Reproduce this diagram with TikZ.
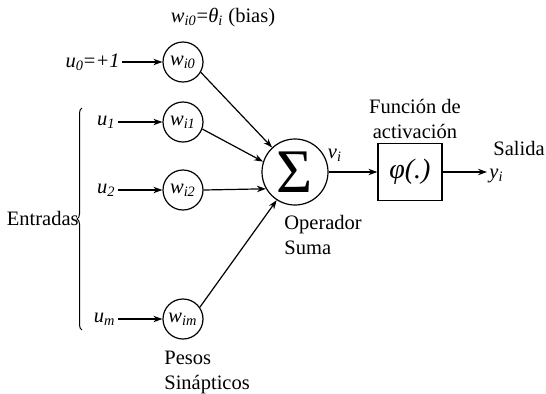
\documentclass[tikz,border=0pt]{standalone}
\usepackage{fontspec}
\setmainfont{Liberation Serif}
\usetikzlibrary{positioning,arrows.meta,decorations.pathreplacing}

\begin{document}
\begin{tikzpicture}[x=0.5pt, y=-0.5pt, >={Stealth[length=4.5pt,width=3.2pt]},
    font=\fontsize{10.25}{12.5}\selectfont,
    peso/.style={circle, draw, line width=0.6pt, minimum size=20pt, inner sep=0pt},
    entrada/.style={anchor=east, inner sep=1pt},
    flecha/.style={->, line width=0.6pt}]
    \useasboundingbox (0,0) rectangle (546,393);

    % Inputs
    \node[entrada] (u0) at (122,62) {\textit{u}\textsubscript{\textit{0}}=\textit{+1}};
    \node[entrada] (u1) at (118,122) {\textit{u}\textsubscript{\textit{1}}};
    \node[entrada] (u2) at (118,190) {\textit{u}\textsubscript{\textit{2}}};
    \node[entrada] (um) at (118,319) {\textit{u}\textsubscript{\textit{m}}};

    % Synaptic weights
    \node[peso] (w0) at (183,62) {\textit{w}\textsubscript{\textit{i0}}};
    \node[peso] (w1) at (183,122) {\textit{w}\textsubscript{\textit{i1}}};
    \node[peso] (w2) at (183,190) {\textit{w}\textsubscript{\textit{i2}}};
    \node[peso] (wm) at (183,319) {\textit{w}\textsubscript{\textit{im}}};

    % Sum and activation
    \node[circle, draw, line width=0.6pt, minimum size=33pt, inner sep=0pt] (sum) at (295,172) {\fontsize{31}{31}\selectfont Σ};
    \node[draw, line width=0.6pt, minimum width=32pt, minimum height=28.5pt] (phi) at (410,172) {\fontsize{14}{14}\selectfont\textit{φ(.)}};
    \coordinate (out) at (487,172);

    % Arrows
    \draw[flecha] (u0) -- (w0);
    \draw[flecha] (u1) -- (w1);
    \draw[flecha] (u2) -- (w2);
    \draw[flecha] (um) -- (wm);
    \draw[flecha] (w0.-30) -- (sum.133);
    \draw[flecha] (w1.-20) -- (sum.162);
    \draw[flecha] (w2.0) -- (sum.210);
    \draw[flecha] (wm.35) -- (sum.237);
    \draw[flecha] (sum) -- (phi);
    \draw[flecha] (phi) -- (out);

    % Brace
    \coordinate (bT) at (82,108);
    \coordinate (bB) at (82,330);
    \draw[decorate, decoration={brace, amplitude=2.5pt}, line width=0.5pt] (bB) -- (bT);

    % Labels
    \node (bias) at (223,18) {\textit{w}\textsubscript{\textit{i0}}=\textit{θ}\textsubscript{\textit{i}} (bias)};
    \node (vi) at (335,155) {\textit{v}\textsubscript{\textit{i}}};
    \node[align=center] (fact) at (415,119) {Función de\\activación};
    \node[anchor=west, inner sep=0pt] (sal) at (493,148) {Salida};
    \node[anchor=west, inner sep=1pt, yshift=-2pt] (yi) at (out) {\textit{y}\textsubscript{\textit{i}}};
    \node[anchor=west, align=left, inner sep=0pt] (opsum) at (284,235) {Operador\\Suma};
    \node[anchor=west, align=left, inner sep=0pt] (pesos) at (164,372) {Pesos\\Sinápticos};
    \node[anchor=east, inner sep=0pt] (ent) at (79,218) {Entradas};
\end{tikzpicture}
\end{document}
